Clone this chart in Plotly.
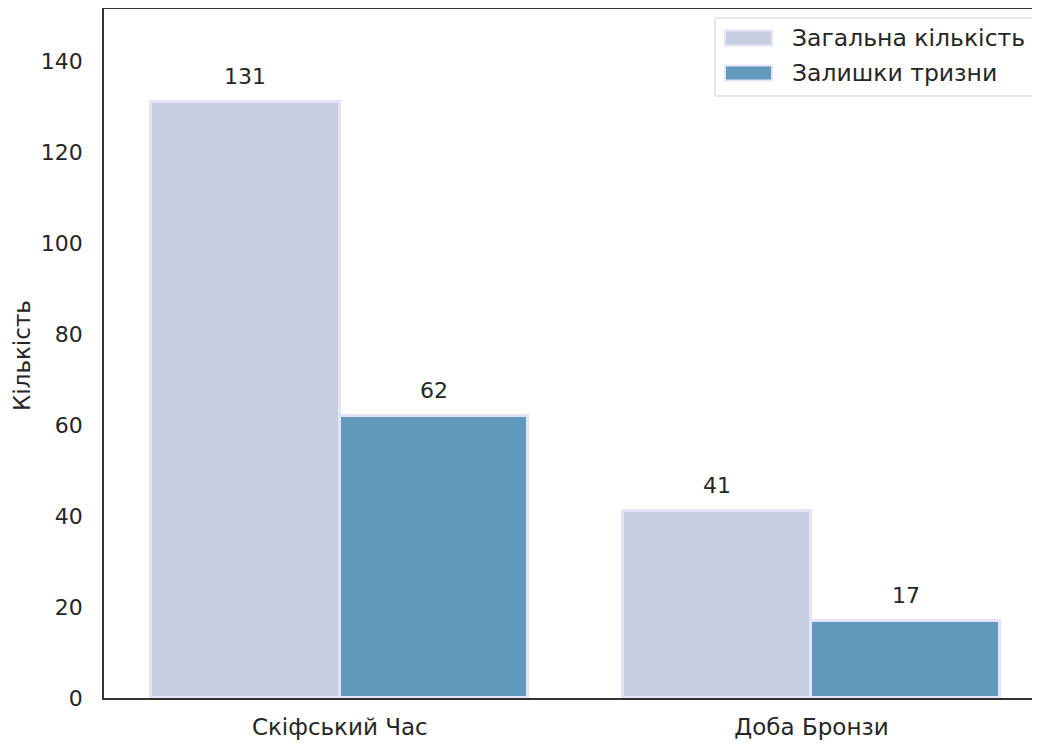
import plotly.graph_objects as go

categories = ["Скіфський Час", "Доба Бронзи"]
total_counts = [131, 41]
trizna_counts = [62, 17]
series_names = ["Загальна кількість", "Залишки тризни"]

FONT = "DejaVu Sans"
TXT = "#262626"
idx = list(range(len(categories)))
bw = 0.4
colors = ["#c6cfe2", "#6199bc"]
EDGE = "#e4e4f8"

OFF = 8  # page body margin offset
W, H = 1040 - OFF, 746 - OFF
L, T = 104 - OFF, 9 - OFF
BOT = 698 - OFF
R, B = 0, H - BOT
PW, PH = W - L - R, H - T - B


def px(xs):
    return (xs - OFF - L) / PW


def py(ys):
    return 1 - (ys - OFF - T) / PH


fig = go.Figure()
fig.add_trace(go.Bar(
    x=[i - bw / 2 for i in idx], y=total_counts, width=bw, name=series_names[0],
    marker=dict(color=colors[0], line=dict(color=EDGE, width=3)),
))
fig.add_trace(go.Bar(
    x=[i + bw / 2 for i in idx], y=trizna_counts, width=bw, name=series_names[1],
    marker=dict(color=colors[1], line=dict(color=EDGE, width=3)),
))

for i in idx:
    for off, v in ((-bw / 2, total_counts[i]), (bw / 2, trizna_counts[i])):
        fig.add_annotation(x=i + off, y=v, text=str(v), showarrow=False,
                           yanchor="bottom", yshift=11,
                           font=dict(family=FONT, size=22, color=TXT))

# custom legend (matplotlib-like wide patches)
fig.add_shape(type="rect", xref="paper", yref="paper",
              x0=px(715), x1=px(1034), y0=py(96), y1=py(18),
              line=dict(color="#d0d0d0", width=1), fillcolor="white", layer="above")
for k, (name, col) in enumerate(zip(series_names, colors)):
    yc = 38 + k * 35
    fig.add_shape(type="rect", xref="paper", yref="paper",
                  x0=px(725), x1=px(772), y0=py(yc + 7.5), y1=py(yc - 7.5),
                  line=dict(color=EDGE, width=2), fillcolor=col, layer="above")
    fig.add_annotation(xref="paper", yref="paper", x=px(790), y=py(yc),
                       xanchor="left", yanchor="middle", showarrow=False,
                       text=name, font=dict(family=FONT, size=23.5, color=TXT))

fig.add_annotation(xref="paper", yref="paper", x=px(22), y=py(356),
                   xanchor="center", yanchor="middle", showarrow=False,
                   textangle=-90, text="Кількість",
                   font=dict(family=FONT, size=23, color=TXT))

fig.update_layout(
    width=W, height=H,
    margin=dict(l=L, r=R, t=T, b=B, autoexpand=False),
    paper_bgcolor="white", plot_bgcolor="white",
    barmode="overlay", bargap=0,
    font=dict(family=FONT, size=22, color=TXT),
    showlegend=False,
    xaxis=dict(
        range=[-0.5, (1040 - 340) / 471.5], tickmode="array", tickvals=idx,
        ticktext=categories, showgrid=False, zeroline=False,
        showline=True, linecolor="#333333", linewidth=1.5, mirror=True,
        ticks="", ticklabelstandoff=8,
        tickfont=dict(family=FONT, size=23, color=TXT),
    ),
    yaxis=dict(
        range=[0, 151.4], tickmode="array", tickvals=[0, 20, 40, 60, 80, 100, 120, 140],
        showgrid=False, zeroline=False, showline=True, linecolor="#333333",
        linewidth=1.5, ticks="", ticklabelstandoff=15,
        tickfont=dict(family=FONT, size=22, color=TXT),
    ),
)

fig.write_html("out.html")
